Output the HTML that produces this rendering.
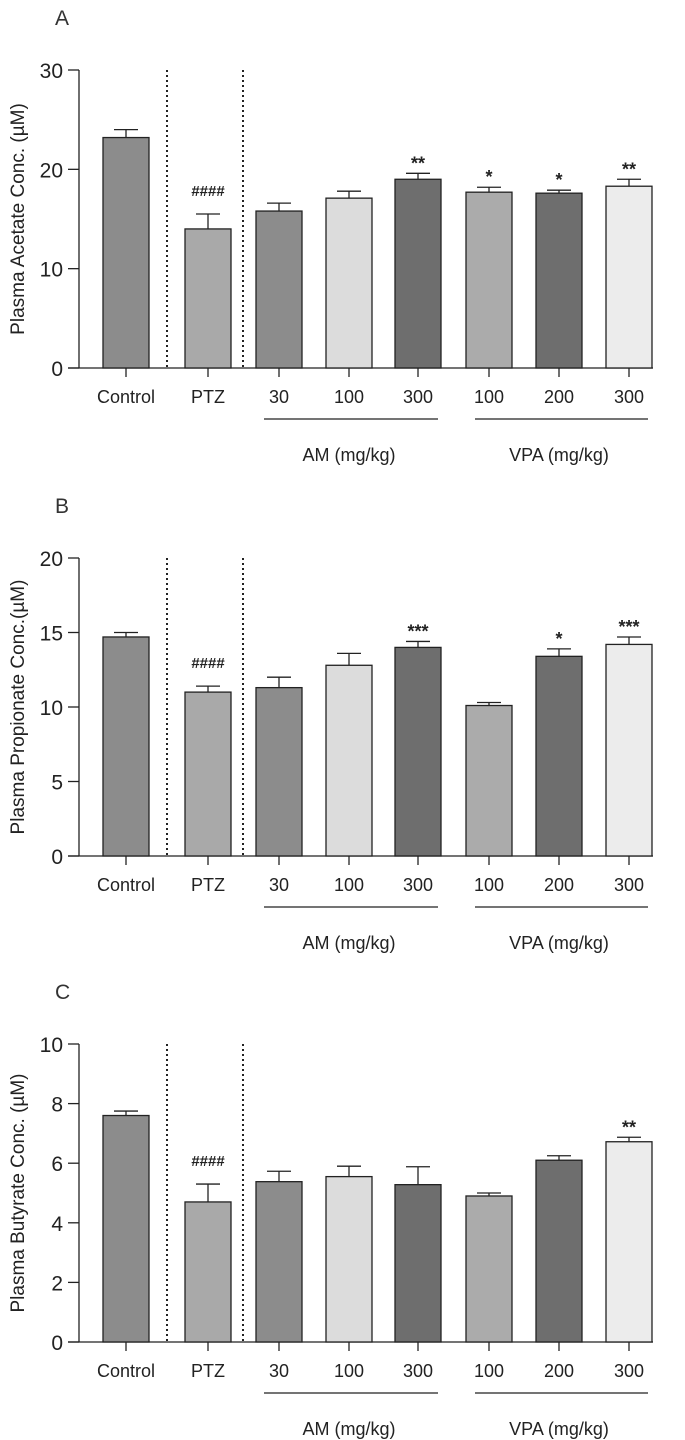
<!DOCTYPE html>
<html><head><meta charset="utf-8"><style>
html,body{margin:0;padding:0;background:#fff;}
svg{display:block;font-family:"Liberation Sans",Arial,sans-serif;}
</style></head><body>
<svg id="fig" width="685" height="1440" viewBox="0 0 685 1440"></svg>
<script>
const categories = ["Control","PTZ","30","100","300","100","200","300"];
const acetateValues = [23.2,14.0,15.8,17.1,19.0,17.7,17.6,18.3];
const acetateErrors = [0.8,1.5,0.8,0.7,0.6,0.5,0.3,0.7];
const acetateMarks = ["","####","","","**","*","*","**"];
const propionateValues = [14.7,11.0,11.3,12.8,14.0,10.1,13.4,14.2];
const propionateErrors = [0.3,0.4,0.7,0.8,0.4,0.2,0.5,0.5];
const propionateMarks = ["","####","","","***","","*","***"];
const butyrateValues = [7.6,4.7,5.38,5.55,5.28,4.9,6.1,6.72];
const butyrateErrors = [0.15,0.6,0.35,0.35,0.6,0.1,0.15,0.15];
const butyrateMarks = ["","####","","","","","","**"];
const acetateTicks = [0,10,20,30];
const propionateTicks = [0,5,10,15,20];
const butyrateTicks = [0,2,4,6,8,10];

const NS="http://www.w3.org/2000/svg";
const svg=document.getElementById('fig');
const fills=["#8c8c8c","#a9a9a9","#8c8c8c","#dcdcdc","#6e6e6e","#ababab","#6e6e6e","#ececec"];
const centers=[126,208,279,349,418,489,559,629];
function mk(tag,attrs,parent){const e=document.createElementNS(NS,tag);for(const k in attrs)e.setAttribute(k,attrs[k]);(parent||svg).appendChild(e);return e;}

function panel(letter,title,vals,errs,marks,ticks,y0,ytop,key){
  const g=mk('g',{});
  
  
  const max=ticks[ticks.length-1];
  const ys=v=>y0-(v/max)*(y0-ytop);
  const L=mk('text',{x:55,y:ytop-45,'font-size':21,fill:'#333'},g);L.textContent=letter;
  
  
  const yt=mk('text',{transform:`translate(24,${(y0+ytop)/2}) rotate(-90)`,'text-anchor':'middle','font-size':19,fill:'#222'},g);yt.textContent=title;
  
  
  mk('line',{x1:79,y1:ytop,x2:79,y2:y0,stroke:'#222','stroke-width':1.3},g);
  mk('line',{x1:68,y1:y0,x2:653,y2:y0,stroke:'#222','stroke-width':1.3},g);
  ticks.forEach(t=>{
    const y=ys(t);
    mk('line',{x1:68,y1:y,x2:79,y2:y,stroke:'#222','stroke-width':1.3},g);
    const tx=mk('text',{x:63,y:y+8,'text-anchor':'end','font-size':21,fill:'#222'},g);tx.textContent=t;
    
    
  });
  [167,243].forEach(x=>mk('line',{x1:x,y1:ytop,x2:x,y2:y0,stroke:'#222','stroke-width':2,'stroke-dasharray':'2,3'},g));
  vals.forEach((v,i)=>{
    const cx=centers[i],w=46,top=ys(v),eTop=ys(v+errs[i]);
    const r=mk('rect',{x:cx-w/2,y:top,width:w,height:y0-top,fill:fills[i],stroke:'#222','stroke-width':1.3},g);
    
    
    mk('line',{x1:cx,y1:top,x2:cx,y2:eTop,stroke:'#222','stroke-width':1.3},g);
    mk('line',{x1:cx-12,y1:eTop,x2:cx+12,y2:eTop,stroke:'#222','stroke-width':1.3},g);
    mk('line',{x1:cx,y1:y0,x2:cx,y2:y0+9,stroke:'#222','stroke-width':1.3},g);
    if(marks[i]){
      const isHash=marks[i][0]=='#';
      const m=mk('text',{x:cx,y:eTop-(isHash?18:4),'text-anchor':'middle','font-size':isHash?15:18,'font-weight':'bold',fill:'#222'},g);m.textContent=marks[i];
      
      
    }
    const c=mk('text',{x:cx,y:y0+35,'text-anchor':'middle','font-size':18,fill:'#222'},g);c.textContent=categories[i];
    
    
  });
  mk('line',{x1:264,y1:y0+51,x2:438,y2:y0+51,stroke:'#222','stroke-width':1.3},g);
  mk('line',{x1:475,y1:y0+51,x2:648,y2:y0+51,stroke:'#222','stroke-width':1.3},g);
  const a=mk('text',{x:349,y:y0+93,'text-anchor':'middle','font-size':18,fill:'#222'},g);a.textContent="AM (mg/kg)";
  
  
  const b=mk('text',{x:559,y:y0+93,'text-anchor':'middle','font-size':18,fill:'#222'},g);b.textContent="VPA (mg/kg)";
  
  
}
panel("A","Plasma Acetate Conc. (\u00b5M)",acetateValues,acetateErrors,acetateMarks,acetateTicks,368,70,"acetate");
panel("B","Plasma Propionate Conc.(\u00b5M)",propionateValues,propionateErrors,propionateMarks,propionateTicks,856,558,"propionate");
panel("C","Plasma Butyrate Conc. (\u00b5M)",butyrateValues,butyrateErrors,butyrateMarks,butyrateTicks,1342,1044,"butyrate");
</script>
</body></html>
